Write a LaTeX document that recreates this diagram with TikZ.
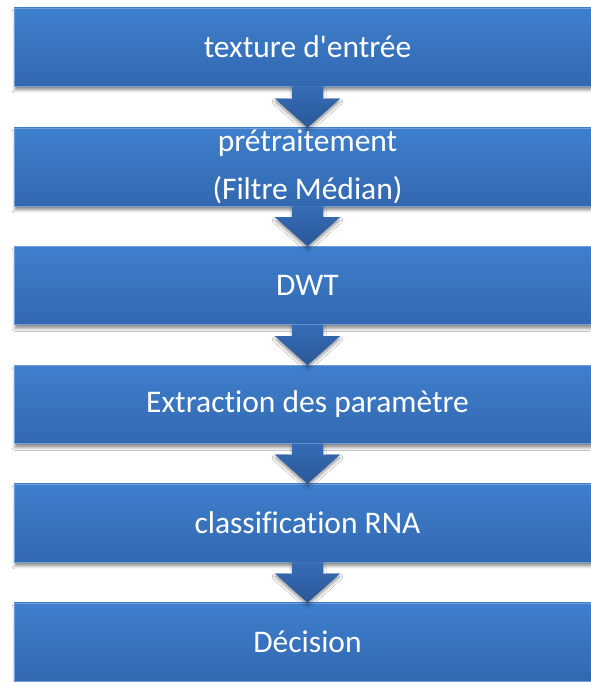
\documentclass[tikz,border=0pt]{standalone}
\usepackage{fontspec}
\setmainfont{Carlito}[Ligatures={TeXOff,NoCommon}]
\usetikzlibrary{calc,shadows.blur}

\definecolor{boxtop}{RGB}{62,127,205}
\definecolor{boxbot}{RGB}{51,104,176}
\definecolor{boxedge}{RGB}{112,158,218}
\definecolor{arrtop}{RGB}{54,108,182}
\definecolor{arrbot}{RGB}{43,88,152}

\tikzset{
  stepbox/.style={rectangle, minimum width=587pt, minimum height=78pt,
    inner sep=0pt, top color=boxtop, bottom color=boxbot,
    draw=boxedge, line width=0.6pt, text=white, align=center,
    font=\fontsize{31.5}{48}\selectfont,
    blur shadow={shadow xshift=1pt, shadow yshift=-4pt,
      shadow blur radius=3pt, shadow opacity=45}},
  flowarrow/.style={top color=arrtop, bottom color=arrbot,
    blur shadow={shadow xshift=0pt, shadow yshift=-3pt,
      shadow blur radius=3pt, shadow opacity=40}}
}

% block arrow from the bottom of one box to the top of the next
\newcommand{\blockarrow}[2]{%
  \path[flowarrow] let \p1=(#1.south), \p2=(#2.north) in
    (\x1-15.5pt,\y1) -- (\x1+15.5pt,\y1) -- (\x1+15.5pt,\y2+29pt)
    -- (\x1+32.5pt,\y2+29pt) -- (\x2,\y2) -- (\x1-32.5pt,\y2+29pt)
    -- (\x1-15.5pt,\y2+29pt) -- cycle;}

\begin{document}
\begin{tikzpicture}[x=1pt,y=1pt]
  \useasboundingbox (0,0) rectangle (590,682);
  \fill[white] (0,0) rectangle (590,682);

  \node[stepbox] (in)   at (307.5,635)   {texture d'entrée};
  \node[stepbox] (pre)  at (307.5,515)   {prétraitement\\(Filtre Médian)};
  \node[stepbox] (dwt)  at (307.5,396.5) {DWT};
  \node[stepbox] (ext)  at (307.5,277.5) {Extraction des paramètre};
  \node[stepbox] (cls)  at (307.5,159)   {classification RNA};
  \node[stepbox] (dec)  at (307.5,40)    {Décision};

  \blockarrow{in}{pre}
  \blockarrow{pre}{dwt}
  \blockarrow{dwt}{ext}
  \blockarrow{ext}{cls}
  \blockarrow{cls}{dec}
\end{tikzpicture}
\end{document}
